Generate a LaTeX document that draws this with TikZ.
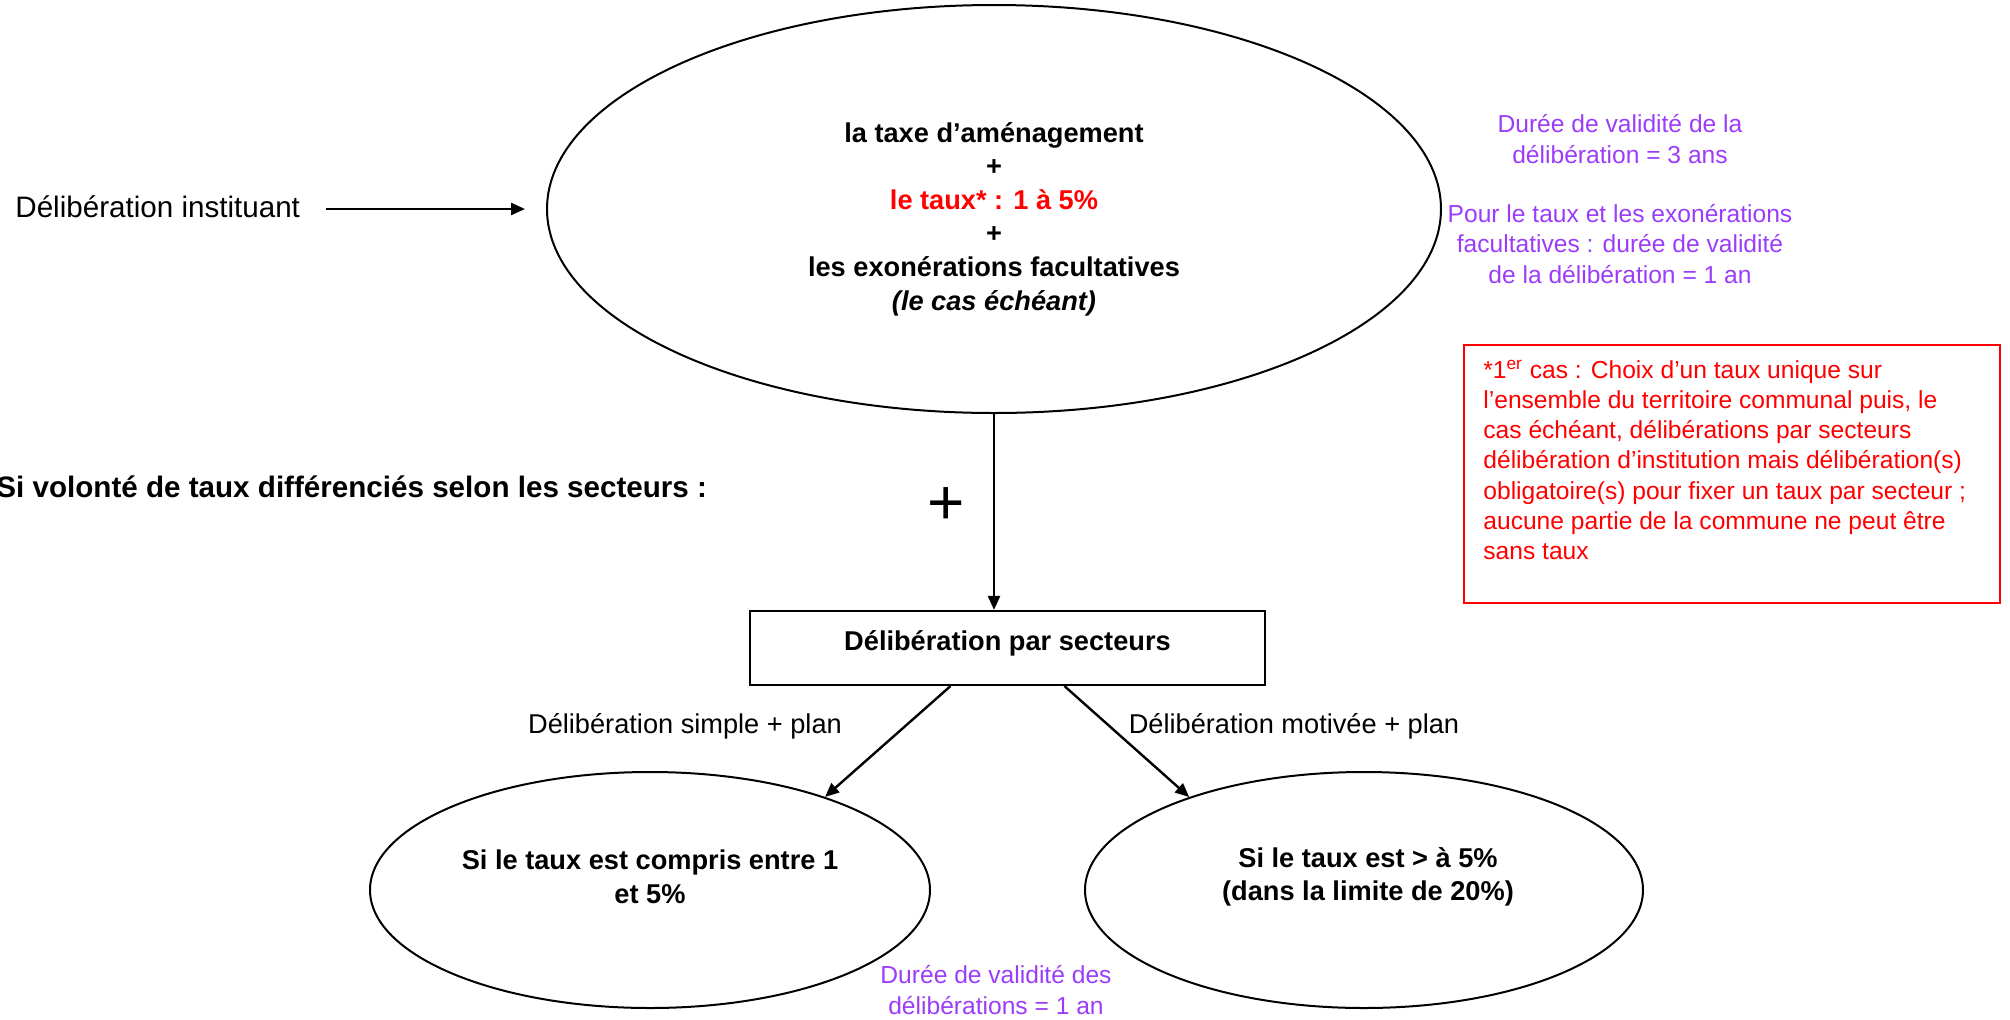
\documentclass[tikz,border=0pt]{standalone}
\usepackage{fontspec}
\setmainfont{Liberation Sans}
\usetikzlibrary{shapes.geometric,arrows.meta,calc}
\definecolor{violetx}{RGB}{155,60,250}
\definecolor{redx}{RGB}{255,0,0}
\begin{document}
\begin{tikzpicture}[x=0.5pt,y=-0.5pt,
  bt/.style={font=\fontsize{13.6}{16.8}\selectfont\bfseries, align=center, inner sep=0pt},
  lab/.style={font=\fontsize{13.6}{16.5}\selectfont, inner sep=0pt},
  small/.style={font=\fontsize{12.3}{15.1}\selectfont, inner sep=0pt},
  ell/.style={draw, ellipse, line width=1pt, inner sep=0pt},
  arr/.style={line width=1.2pt, -{Triangle[length=7pt,width=6pt]}}]
\useasboundingbox (0,0) rectangle (2010,1019);

% top ellipse
\node[ell, minimum width=447pt, minimum height=204pt] (top) at (994,209) {};
\node[bt] (toptext) at (994,219) {la taxe d’aménagement\\+\\\textcolor{redx}{le taux* : 1 à 5\%}\\+\\les exonérations facultatives\\\textit{(le cas échéant)}};

% left label + arrow
\node[font=\fontsize{14.8}{17}\selectfont, inner sep=0pt, anchor=west] (inst) at (15,207) {Délibération instituant};
\coordinate (ia) at ($(inst.east)+(26,0)$);
\draw[arr] (ia |- top.west) -- ($(top.west)+(-21,0)$);

% side note left
\node[font=\fontsize{14.8}{17}\selectfont\bfseries, inner sep=0pt, anchor=west] (volonte) at (-4,487) {Si volonté de taux différenciés selon les secteurs :};
\node[font=\fontsize{32}{32}\selectfont, inner sep=0pt] (plus) at (946,506) {+};

% box
\node[draw, line width=1.1pt, minimum width=257.5pt, minimum height=37pt, bt, text depth=7pt] (box) at (1007.5,648) {Délibération par secteurs};
\draw[arr] (top.south) -- (top.south |- box.north);

% bottom ellipses
\node[ell, minimum width=280pt, minimum height=118pt] (e1) at (650,890) {};
\node[bt] (e1t) at (650,877) {Si le taux est compris entre 1\\et 5\%};
\node[ell, minimum width=279pt, minimum height=118pt] (e2) at (1364,890) {};
\node[bt] (e2t) at (1368,877) {Si le taux est > à 5\%\\(dans la limite de 20\%)};

\draw[arr] ($(box.south)+(-57,0)$) -- (e1.28);
\draw[arr] ($(box.south)+(57,0)$) -- (e2.152);

\node[lab] (l1) at (685,726) {Délibération simple + plan};
\node[lab] (l2) at (1294,726) {Délibération motivée + plan};

% purple notes
\node[small, text=violetx, align=center] (p1) at (1620,139) {Durée de validité de la\\délibération = 3 ans};
\node[small, text=violetx, align=center] (p2) at (1620,244) {Pour le taux et les exonérations\\facultatives : durée de validité\\de la délibération = 1 an};
\node[small, text=violetx, align=center] (p3) at (996,990) {Durée de validité des\\délibérations = 1 an};

% red box
\node[draw=redx, line width=1pt, minimum width=268pt, minimum height=129pt, anchor=north west, inner sep=0pt] (rbox) at (1463,344) {};
\node[small, text=redx, align=left, anchor=north west] (rtext) at (1483,360) {*1\textsuperscript{er} cas : Choix d’un taux unique sur\\l’ensemble du territoire communal puis, le\\cas échéant, délibérations par secteurs\\délibération d’institution mais délibération(s)\\obligatoire(s) pour fixer un taux par secteur ;\\aucune partie de la commune ne peut être\\sans taux};
\end{tikzpicture}
\end{document}
